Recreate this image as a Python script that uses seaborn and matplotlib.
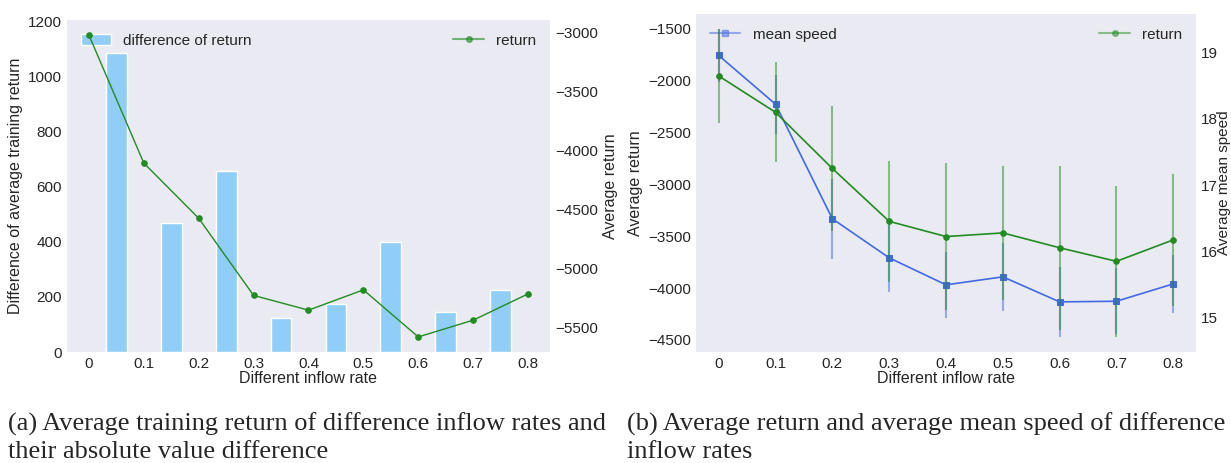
import numpy as np
import matplotlib
matplotlib.use('Agg')
import matplotlib.pyplot as plt
import seaborn as sns
from matplotlib.lines import Line2D

# data
rates = [0, 0.1, 0.2, 0.3, 0.4, 0.5, 0.6, 0.7, 0.8]
rate_labels = ['0', '0.1', '0.2', '0.3', '0.4', '0.5', '0.6', '0.7', '0.8']

# (a) average return and difference between neighbouring rates
train_return = [-3023, -4108, -4576, -5230, -5355, -5183, -5582, -5440, -5217]
diff_x = [0.05, 0.15, 0.25, 0.35, 0.45, 0.55, 0.65, 0.75]
diff_return = [1086, 470, 656, 125, 173, 399, 144, 224]

# (b) mean speed (left axis) and return (right axis) with error bars
speed_mean = [-1760, -2230, -3333, -3709, -3969, -3892, -4133, -4127, -3960]
speed_err = [251, 286, 386, 325, 321, 325, 335, 320, 280]
ret_mean = [18.65, 18.10, 17.25, 16.45, 16.22, 16.275, 16.05, 15.845, 16.17]
ret_err = [0.705, 0.757, 0.94, 0.92, 1.11, 1.02, 1.24, 1.14, 1.0]

sns.set_style("dark")
plt.rcParams['font.family'] = ['Liberation Sans', 'DejaVu Sans']
plt.rcParams['font.size'] = 11
plt.rcParams['axes.labelsize'] = 11.5
plt.rcParams['xtick.labelsize'] = 11
plt.rcParams['ytick.labelsize'] = 11
plt.rcParams['legend.fontsize'] = 11

bar_color = '#90CEF8'
green = 'forestgreen'
blue = 'royalblue'

fig = plt.figure(figsize=(12.31, 4.63), dpi=100)

# ---------- (a) ----------
ax1 = fig.add_axes([0.0544, 0.2397, 0.3924, 0.7171])
sns.barplot(x=diff_x, y=diff_return, native_scale=True, width=0.38,
            color=bar_color, edgecolor='white', linewidth=1, ax=ax1,
            label='difference of return', saturation=1)
ax1.set_ylim(0, 1205)
ax1.set_xlim(-0.04, 0.84)
ax1.set_xticks(rates)
ax1.set_xticklabels(rate_labels)
ax1.set_xlabel('Different inflow rate', labelpad=0)
ax1.set_ylabel('Difference of average training return')
ax1.legend(loc='upper left', frameon=False)

ax2 = ax1.twinx()
sns.lineplot(x=rates, y=train_return, ax=ax2, color=green, marker='o',
             markersize=4, markeredgecolor=green, linewidth=1)
ax2.set_ylabel('Average return')
ax2.legend(handles=[Line2D([], [], color=green, marker='o', markersize=4, alpha=0.6)],
           labels=['return'], loc='upper right', frameon=False)
ax2.set_xlim(-0.04, 0.84)

# ---------- (b) ----------
ax3 = fig.add_axes([0.5654, 0.2397, 0.4062, 0.730])
ax3.errorbar(rates, speed_mean, yerr=speed_err, fmt='none', ecolor=blue,
             elinewidth=1.5, alpha=0.5)
sns.lineplot(x=rates, y=speed_mean, ax=ax3, color=blue, marker='s',
             markersize=5, markeredgecolor=blue, linewidth=1.2)
ax3.set_xlim(-0.04, 0.84)
ax3.set_xticks(rates)
ax3.set_xticklabels(rate_labels)
ax3.set_xlabel('Different inflow rate', labelpad=0)
ax3.set_ylabel('Average return')
ax3.legend(handles=[Line2D([], [], color=blue, marker='s', markersize=5, alpha=0.5)],
           labels=['mean speed'], loc='upper left', frameon=False)

ax4 = ax3.twinx()
ax4.errorbar(rates, ret_mean, yerr=ret_err, fmt='none', ecolor=green,
             elinewidth=1.5, alpha=0.5)
sns.lineplot(x=rates, y=ret_mean, ax=ax4, color=green, marker='o',
             markersize=4, markeredgecolor=green, linewidth=1.2)
ax4.set_ylabel('Average mean speed', labelpad=-1, fontsize=11)
ax4.set_yticks([15, 16, 17, 18, 19])
ax4.legend(handles=[Line2D([], [], color=green, marker='o', markersize=4, alpha=0.5)],
           labels=['return'], loc='upper right', frameon=False)
ax4.set_xlim(-0.04, 0.84)

for ax in [ax1, ax2, ax3, ax4]:
    for s in ax.spines.values():
        s.set_visible(False)
    ax.tick_params(length=0)

# captions below the panels
cap = dict(family=['Liberation Serif', 'DejaVu Serif'], fontsize=19, va='center', ha='left')
fig.text(8 / 1231, 1 - 424 / 463, '(a) Average training return of difference inflow rates and', **cap)
fig.text(8 / 1231, 1 - 452 / 463, 'their absolute value difference', **cap)
fig.text(627 / 1231, 1 - 424 / 463, '(b) Average return and average mean speed of difference', **cap)
fig.text(627 / 1231, 1 - 452 / 463, 'inflow rates', **cap)

fig.savefig('out.png', dpi=100)
